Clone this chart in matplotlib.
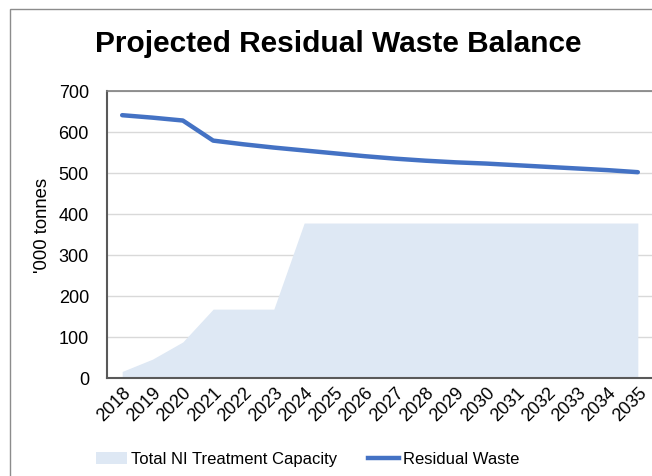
import matplotlib
matplotlib.use("Agg")
import matplotlib.pyplot as plt
from matplotlib.patches import Rectangle, Patch
from matplotlib.lines import Line2D

plt.rcParams['font.family'] = ['Liberation Sans', 'DejaVu Sans']

# data ('000 tonnes)
years = [str(y) for y in range(2018, 2036)]
capacity = [16, 46, 88, 168, 168, 168, 378, 378, 378, 378, 378, 378,
            378, 378, 378, 378, 378, 378]
residual = [641, 635, 628, 579, 570, 562, 555, 548, 541, 535, 530, 526,
            523, 519, 515, 511, 507, 502]

W, H = 652, 477
fig = plt.figure(figsize=(W / 100, H / 100), dpi=100)

# outer chart frame
fig.patches.append(Rectangle((10 / W, -0.1), 1.2, 1 - 10 / H + 0.1,
                             transform=fig.transFigure, fill=False,
                             edgecolor='#8c8c8c', linewidth=1.0))

ax = fig.add_axes([107 / W, 1 - 379 / H, 546 / W, 287 / H])
x = list(range(len(years)))

ax.fill_between(x, capacity, 0, color='#DEE8F4', linewidth=0, zorder=1)
ax.plot(x, residual, color='#4472C4', linewidth=3.2, solid_capstyle='round',
        zorder=3)

ax.set_xlim(-0.5, len(years) - 0.5)
ax.set_ylim(0, 700)
ax.set_yticks(range(0, 701, 100))
ax.set_xticks(x)
ax.set_xticklabels(years, rotation=45, ha='right', rotation_mode='anchor',
                   fontsize=13)
ax.tick_params(axis='y', labelsize=13, length=0, pad=13)
ax.tick_params(axis='x', length=0, pad=4)
ax.grid(axis='y', color='#D9D9D9', linewidth=1.0, zorder=0)
ax.set_axisbelow(True)

for side in ['left', 'bottom']:
    ax.spines[side].set_color('#595959')
    ax.spines[side].set_linewidth(1.5)
ax.spines['top'].set_color('#7f7f7f')
ax.spines['top'].set_linewidth(1.2)
ax.spines['right'].set_visible(False)

ax.set_ylabel("'000 tonnes", fontsize=13.3)
ax.yaxis.set_label_coords((42.5 - 107) / 546, (379 - 225) / 287)
ax.yaxis.label.set_va('center')

fig.text(338 / W, 1 - 44 / H, 'Projected Residual Waste Balance',
         fontsize=21.5, fontweight='bold', ha='center', va='center')

handles = [Patch(facecolor='#DEE8F4', edgecolor='none'),
           Line2D([0], [0], color='#4472C4', linewidth=3.2)]
fig.legend(handles, ['Total NI Treatment Capacity', 'Residual Waste'],
           loc='center', bbox_to_anchor=(308 / W, 1 - 460 / H), ncol=2,
           frameon=False, fontsize=12, handlelength=1.85, handletextpad=0.25,
           columnspacing=1.85)

fig.savefig('out.png', dpi=100)
